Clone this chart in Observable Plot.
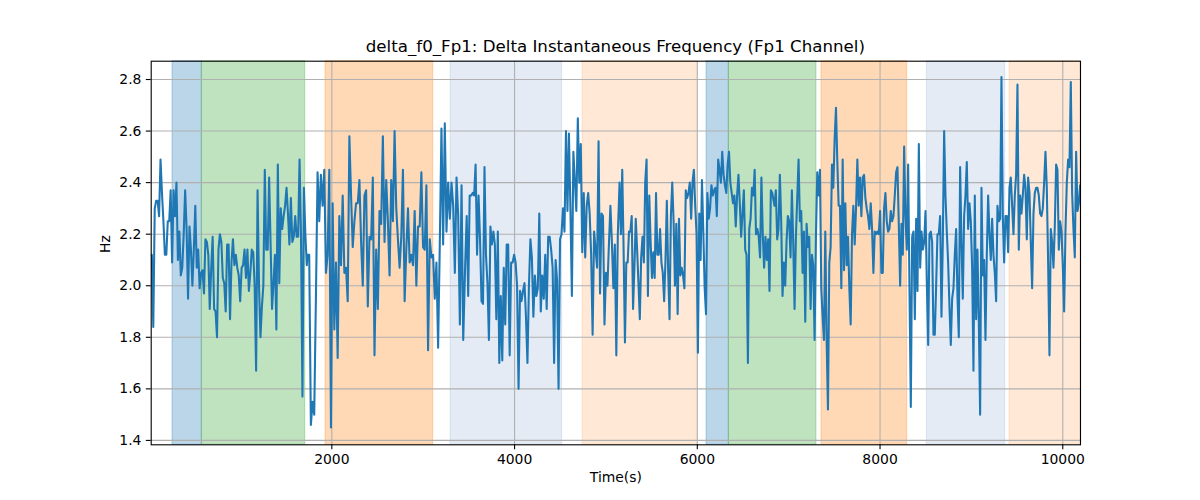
<!DOCTYPE html>
<html>
<head>
<meta charset="utf-8">
<script src="https://cdn.jsdelivr.net/npm/d3@7"></script>
<script src="https://cdn.jsdelivr.net/npm/@observablehq/plot@0.6"></script>
<style>
  body { margin: 0; background: white; }
  #wrap { position: relative; width: 1200px; height: 500px; font-family: "DejaVu Sans", sans-serif; }
  #title { position: absolute; left: 150.7px; width: 929.3px; top: 0; height: 56px; padding-top: 36.5px; box-sizing: border-box;
           text-align: center; font-size: 16.67px; line-height: 20px; color: black; white-space: nowrap; }
  #chart { position: absolute; left: 0; top: 56px; }
</style>
</head>
<body>
<div id="wrap">
  <div id="title">delta_f0_Fp1: Delta Instantaneous Frequency (Fp1 Channel)</div>
  <div id="chart"></div>
</div>
<script>
// ---- Data ----
const segStarts = [30, 1734, 3460, 5149, 6845, 8541];
const segEnds   = [1726, 3438, 5130, 6820, 8527, 10190];

const seg1 = [2.12,1.84,2.30,2.33,2.33,2.27,2.49,2.36,2.25,2.12,2.12,2.25,2.25,2.37,2.09,2.37,2.27,2.40,2.10,2.21,2.04,2.07,2.20,2.37,2.22,1.95,2.23,2.14,2.00,2.14,2.31,2.07,2.14,1.99,2.05,2.06,1.97,2.18,2.17,2.12,1.91,2.07,2.19,1.91,1.90,1.80,2.14,2.20,2.17,2.03,2.01,1.90,2.16,2.16,1.87,2.09,2.18,2.08,2.12,2.07,2.04,1.94,2.07,2.08,2.14,2.03,2.14,1.98,2.05,2.14,2.13,2.00,1.67,2.37,2.00,1.80,1.92,2.00,2.45,2.14,2.14,2.42,2.16,1.91,2.01,2.12,1.83,2.47,2.01,2.30,2.22,2.27,2.31,2.38,2.28,2.16,2.34,2.17,2.19,2.27,2.19,2.19,2.49,2.19,1.57,2.38,2.20,2.08];
const seg2 = [2.12,2.12,1.46,1.55,1.50,1.95,2.44,2.25,2.43,2.31,2.45,2.05,2.12,2.45,1.45,2.32,1.83,2.09,1.72,2.27,2.08,2.35,2.05,2.07,1.94,2.58,2.35,2.15,2.25,2.32,2.32,2.41,2.17,2.00,2.35,2.37,1.92,2.19,2.18,2.42,1.73,2.14,1.91,2.29,2.24,2.58,2.17,2.41,2.25,2.04,2.41,2.25,2.60,2.30,2.18,2.07,2.19,2.45,1.94,2.14,2.30,2.09,2.12,2.08,2.29,2.00,2.23,2.23,2.44,2.15,2.14,2.39,1.75,2.18,2.11,2.12,1.95,2.09,1.76,2.16,2.61,2.16,2.63,2.21,2.40,2.26,2.40,2.31,2.05,2.42,2.27,1.85,2.39,1.79];
const seg3 = [2.09,2.27,1.96,2.35,2.35,2.36,2.35,2.47,2.12,2.35,2.18,1.94,1.93,2.46,2.12,2.01,1.79,2.23,2.16,2.21,2.16,1.87,2.21,1.70,1.96,1.71,2.07,1.85,2.16,2.16,1.73,2.09,2.09,2.12,2.09,2.00,1.60,1.98,1.94,1.98,2.01,1.88,1.70,2.00,2.18,2.11,1.88,2.04,1.96,1.99,2.28,1.90,2.04,1.95,2.12,1.91,2.19,2.19,2.14,2.07,1.70,2.10,2.02,1.60,2.18,2.20,2.30,2.21,2.60,2.29,2.59,2.30,1.96,2.52,2.41,2.29,2.65,2.40,2.55,2.13,2.36,2.11,2.31,2.36,2.28,2.12,1.81,2.21,2.14,2.07,2.56,1.97,2.28,2.27,1.85,2.05,2.00,2.16,2.31,2.17,1.99,2.16,1.73,2.20];
const seg4 = [2.40,2.20,2.45,2.14,1.78,2.09,2.09,2.21,2.21,2.27,1.91,2.07,2.26,2.14,2.01,1.87,2.11,2.19,2.09,2.40,2.49,1.96,2.35,2.17,2.03,2.13,2.03,2.36,2.12,2.12,2.22,2.09,2.05,1.94,2.10,2.33,2.05,1.87,2.27,2.40,2.25,2.00,2.24,1.89,2.26,2.04,2.07,2.04,1.99,2.37,2.34,2.36,2.40,2.26,2.40,2.45,2.31,2.20,1.74,2.28,2.10,2.41,2.21,1.99,1.89,2.36,2.26,2.30,2.39,2.35,2.37,2.38,2.27,2.49,2.45,2.40,2.52,2.43,2.39,2.36,2.47,2.52,2.40,2.36,2.32,2.35,2.23,2.35,2.43,2.32,2.19,2.28,2.37,2.14,2.12,1.70,2.22,2.26,2.38,2.35,2.45,2.20,2.22,2.19,2.11,2.42,2.20,2.07,2.19,2.10,2.18,1.98,2.37,2.36];
const seg5 = [2.31,2.37,2.18,2.22,2.43,2.25,1.96,2.09,2.00,2.17,2.27,2.25,2.11,2.37,2.17,1.91,2.19,2.34,2.49,2.25,2.29,2.05,2.21,1.86,2.24,2.15,2.19,1.91,2.12,2.08,1.79,2.19,2.44,2.35,2.45,1.99,1.88,1.79,2.21,1.79,1.52,2.09,2.15,2.47,2.38,2.57,2.69,2.48,2.31,2.31,1.99,2.49,2.06,2.32,2.08,2.19,1.99,1.85,2.20,2.31,2.16,2.30,2.49,2.31,2.42,2.27,2.42,2.43,2.34,2.30,2.27,2.22,2.32,2.22,2.05,2.21,2.20,2.21,2.20,2.29,2.05,2.05,2.30,2.36,2.25,2.21,2.22,2.29,2.25,2.27,2.35,2.44,2.46,2.24,2.00,2.24,2.12,2.54,2.27,2.14,2.47,1.99,1.53,2.19,2.21,1.87,2.26,1.98,2.55,2.07,2.21,2.14,2.17,2.29,2.01,1.77];
const seg6 = [2.20,2.21,2.17,1.81,1.81,2.00,2.20,2.20,2.27,1.88,2.17,2.60,2.35,2.21,2.09,1.92,1.77,1.95,1.99,2.12,2.22,1.96,1.80,2.46,2.17,1.95,2.27,2.35,2.48,2.22,2.32,2.25,2.07,1.67,2.35,1.87,2.14,1.86,1.50,2.38,2.04,2.10,1.79,2.12,2.35,2.20,2.10,2.26,2.12,2.05,1.94,2.31,2.25,2.26,2.81,2.27,2.09,2.27,2.27,2.13,2.38,2.42,2.31,2.20,2.35,2.43,2.78,2.14,2.35,2.28,2.35,2.43,2.38,2.18,2.42,2.36,2.17,1.99,2.28,2.36,2.38,2.38,2.35,2.28,2.27,2.30,2.40,2.52,2.38,2.09,1.73,2.22,2.17,2.07,2.23,2.47,2.45,2.14,2.25,2.21,2.08,1.90,2.21,2.40,2.49,2.46,2.79,2.36,2.22,2.11,2.52,2.29,2.32,2.39];

const bandStarts = [256, 577, 1931, 3299, 4744, 6101, 6345, 7359, 8512, 9417];
const bandEnds   = [577, 1709, 3110, 4521, 5995, 6345, 7304, 8297, 9370, 10194];
const bandColors = ["#1f77b4", "#2ca02c", "#ff7f0e", "#4b7abc", "#ff7f0e", "#1f77b4", "#2ca02c", "#ff7f0e", "#4b7abc", "#ff7f0e"];
const bandAlphas = [0.3, 0.3, 0.3, 0.15, 0.17, 0.3, 0.3, 0.3, 0.15, 0.17];

const xTicks = [2000, 4000, 6000, 8000, 10000];
const yTicks = [1.4, 1.6, 1.8, 2.0, 2.2, 2.4, 2.6, 2.8];
const xDomain = [23, 10194];
const yDomain = [1.383, 2.871];

// ---- Build tables ----
const segs = [seg1, seg2, seg3, seg4, seg5, seg6];
const series = [];
segs.forEach((vals, k) => {
  const n = vals.length, a = segStarts[k], b = segEnds[k];
  vals.forEach((v, i) => series.push({t: a + (b - a) * i / (n - 1), v}));
});
const bands = bandStarts.map((s, i) => ({x1: s, x2: bandEnds[i], c: bandColors[i], a: bandAlphas[i]}));

const chart = Plot.plot({
  width: 1200,
  height: 444,
  marginLeft: 150.7,
  marginRight: 120,
  marginTop: 4.7,
  marginBottom: 55.7,
  style: {fontFamily: "DejaVu Sans, sans-serif", fontSize: "13.9px", color: "black", background: "white", overflow: "visible"},
  x: {domain: xDomain},
  y: {domain: yDomain},
  marks: [
    Plot.rect(bands, {x1: "x1", x2: "x2", fill: "c", fillOpacity: "a", stroke: "c", strokeOpacity: "a", strokeWidth: 1}),
    Plot.gridX(xTicks, {stroke: "#b0b0b0", strokeOpacity: 1, strokeWidth: 1.1}),
    Plot.gridY(yTicks, {stroke: "#b0b0b0", strokeOpacity: 1, strokeWidth: 1.1}),
    Plot.line(series, {x: "t", y: "v", stroke: "#1f77b4", strokeWidth: 2.08, clip: true}),
    Plot.frame({stroke: "black", strokeWidth: 1.1}),
    Plot.axisX(xTicks, {tickSize: 4.86, tickPadding: 4.9, tickFormat: d => String(d), label: null, strokeWidth: 1.1}),
    Plot.axisY(yTicks, {tickSize: 4.86, tickPadding: 4.9, tickFormat: d => d.toFixed(1), label: null, strokeWidth: 1.1}),
    Plot.text(["Time(s)"], {frameAnchor: "bottom", dy: 36.7, text: d => d, fontSize: 13.9, fill: "black"}),
    Plot.text(["Hz"], {frameAnchor: "left", dx: -45.7, rotate: -90, text: d => d, fontSize: 13.9, fill: "black"})
  ]
});
document.getElementById("chart").appendChild(chart);
</script>
</body>
</html>
